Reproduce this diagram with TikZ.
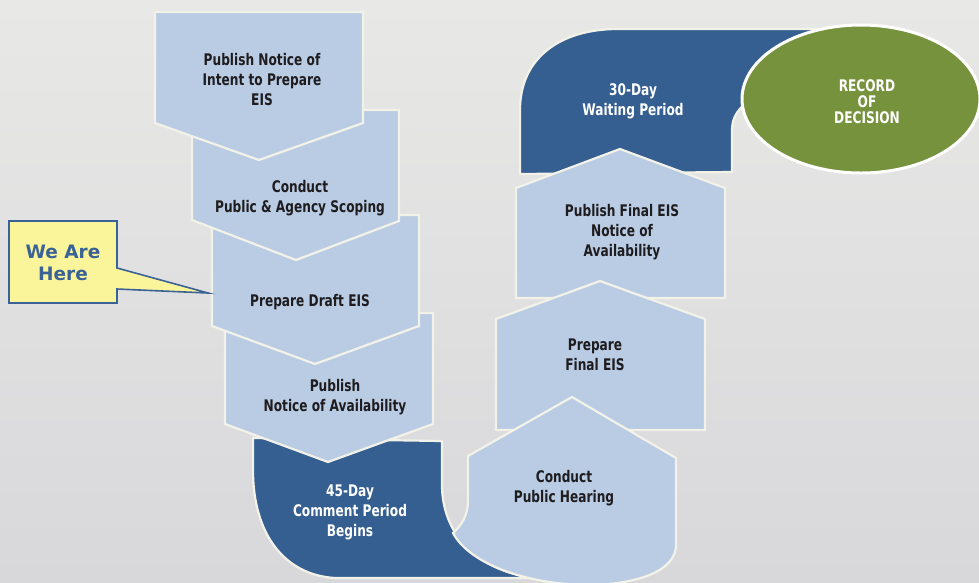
\documentclass[tikz,border=0pt]{standalone}
\usepackage{fontspec}
\setmainfont{Liberation Sans}
\newfontfamily\callfont{DejaVu Sans Bold}
\newfontfamily\impfont{DejaVu Sans Bold}[FakeStretch=0.76]
\definecolor{lb}{RGB}{185,204,228}
\definecolor{db}{RGB}{53,95,145}
\definecolor{bord}{RGB}{243,242,232}
\definecolor{olive}{RGB}{118,146,60}
\definecolor{callfill}{RGB}{250,245,155}
\definecolor{callblue}{RGB}{58,98,150}
\definecolor{txt}{RGB}{30,28,30}
\definecolor{bgtop}{RGB}{232,232,230}
\definecolor{bgbot}{RGB}{216,216,219}
\tikzset{
  stepshape/.style={fill=lb, draw=bord, line width=2.2pt, line join=miter},
  darkshape/.style={fill=db, draw=bord, line width=2.2pt, line join=miter},
  lbl/.style={font=\impfont\fontsize{16}{20}\selectfont, text=txt, align=center, inner sep=0pt},
  wlbl/.style={lbl, text=white},
  rlbl/.style={font=\impfont\fontsize{16}{16}\selectfont, text=white, align=center, inner sep=0pt},
}
\begin{document}
\begin{tikzpicture}[x=1pt,y=-1pt]
\useasboundingbox (0,0) rectangle (979,582);
\clip (0,0) rectangle (979,582);
\fill[top color=bgtop, bottom color=bgbot] (0,0) rectangle (979,582);

% 30-day waiting period
\draw[darkshape] (520,174) -- (520,110) .. controls (520,58) and (560,29) .. (618,29)
  -- (880,29) -- (880,90) -- (770,90) .. controls (745,100) and (732,112) .. (732,130)
  -- (732,172) -- cycle;
% record of decision
\draw[fill=olive, draw=white, line width=3pt] (861,99) ellipse [x radius=119pt, y radius=74pt];

% publish final EIS
\draw[stepshape] (620,149) -- (725,188) -- (725,298) -- (516,298) -- (516,188) -- cycle;
% prepare final EIS
\draw[stepshape] (600,281) -- (705,319) -- (705,430) -- (496,430) -- (496,319) -- cycle;

% 45-day comment period
\draw[darkshape] (253,438) -- (442,441) -- (442,485) .. controls (442,530) and (472,570) .. (535,578)
  -- (335,578) .. controls (285,575) and (253,535) .. (253,470) -- cycle;
% conduct public hearing
\draw[stepshape] (572,397) -- (676,458) -- (676,545) .. controls (676,570) and (640,584) .. (590,585)
  .. controls (530,585) and (470,565) .. (453,533) .. controls (462,525) and (468,515) .. (468,500)
  -- (468,456) -- cycle;

% left column steps (drawn bottom-up)
\draw[stepshape] (225,313) -- (433,313) -- (433,424) -- (328,462) -- (225,424) -- cycle;
\draw[stepshape] (212,215) -- (419,215) -- (419,326) -- (315,364) -- (212,326) -- cycle;
\draw[stepshape] (192,110) -- (399,110) -- (399,221) -- (296,260) -- (192,220) -- cycle;
\draw[stepshape] (155,12) -- (363,12) -- (363,123) -- (259,160) -- (155,123) -- cycle;

% callout
\draw[fill=callfill, draw=callblue, line width=1.6pt, line join=miter]
  (9,221) -- (117,221) -- (117,268) -- (208,293) -- (117,289) -- (117,303) -- (9,303) -- cycle;
\node[font=\callfont\fontsize{18.5}{22}\selectfont, text=callblue, align=center, inner sep=0pt]
  (here) at (63,263) {We Are\\Here};

% labels
\node[lbl] (noi) at (262,80) {Publish Notice of\\Intent to Prepare\\EIS};
\node[lbl] (scope) at (300,198) {Conduct\\Public \& Agency Scoping};
\node[lbl] (draft) at (310,302) {Prepare Draft EIS};
\node[lbl] (noa) at (335,397) {Publish\\Notice of Availability};
\node[wlbl] (comment) at (350,512) {45-Day\\Comment Period\\Begins};
\node[lbl] (hearing) at (564,488) {Conduct\\Public Hearing};
\node[lbl] (prepfinal) at (595,355) {Prepare\\Final EIS};
\node[lbl] (pubfinal) at (622,232) {Publish Final EIS\\Notice of\\Availability};
\node[wlbl] (wait) at (633,101) {30-Day\\Waiting Period};
\node[rlbl] (rod) at (867,102) {RECORD\\OF\\DECISION};
\end{tikzpicture}
\end{document}
